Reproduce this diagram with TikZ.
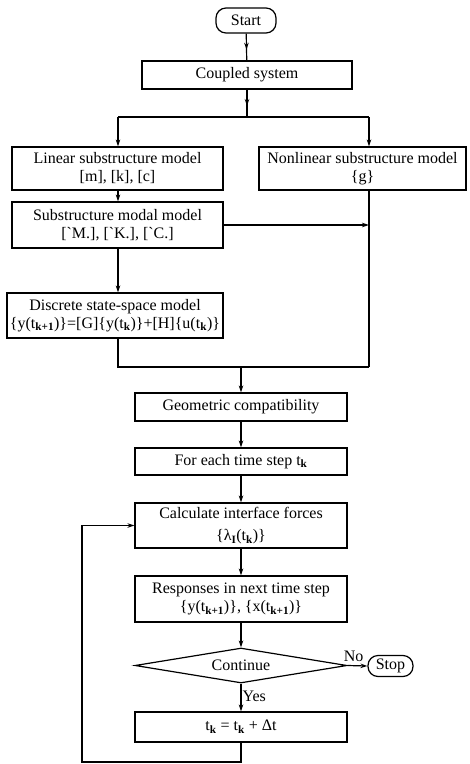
\documentclass[tikz,border=0pt]{standalone}
\usepackage{fontspec}
\setmainfont{Liberation Serif}
\usetikzlibrary{arrows.meta,shapes.geometric,decorations.markings}
\newcommand{\sbk}[1]{\textsubscript{\textbf{#1}}}
\begin{document}
\begin{tikzpicture}[x=1pt,y=-1pt,
  every node/.style={font=\fontsize{16}{18}\selectfont},
  box/.style={draw,line width=1.2pt,inner sep=0pt,align=center},
  term/.style={draw,line width=1.2pt,rounded corners=10pt,inner sep=0pt},
  conn/.style={line width=1.2pt},
  arr/.style={conn,-{Stealth[length=7pt,width=4.5pt]}},
  midarr/.style={conn,postaction={decorate},decoration={markings,mark=at position 0.6 with {\arrow{Stealth[length=7pt,width=4.5pt]}}}},
  lbl/.style={inner sep=1pt}
]
\useasboundingbox (0,0) rectangle (470,764);
\node[term,minimum width=60,minimum height=25] (start) at (246,20.5) {Start};
\node[box,minimum width=210,minimum height=28] (coupled) at (247,75) {Coupled system};
\node[box,minimum width=211,minimum height=43] (linear) at (117.5,168.5) {Linear substructure model\\{[m], [k], [c]}};
\node[box,minimum width=207,minimum height=43] (nonlin) at (362.5,168.5) {Nonlinear substructure model\\\{g\}};
\node[box,minimum width=211,minimum height=46] (modal) at (117.5,225) {Substructure modal model\\{[\textasciigrave M.], [\textasciigrave K.], [\textasciigrave C.]}};
\node[box,minimum width=216,minimum height=45] (discrete) at (115,315.5) {Discrete state-space model\\\{y(t\sbk{k+1})\}=[G]\{y(t\sbk{k})\}+[H]\{u(t\sbk{k})\}};
\node[box,minimum width=212,minimum height=28] (geom) at (241,407) {Geometric compatibility};
\node[box,minimum width=212,minimum height=27] (foreach) at (241,461.5) {For each time step t\sbk{k}};
\node[box,minimum width=212,minimum height=45] (calc) at (241,525.5) {Calculate interface forces\\[4pt]\{λ\sbk{I}(t\sbk{k})\}};
\node[box,minimum width=212,minimum height=46] (resp) at (241,599) {Responses in next time step\\\{y(t\sbk{k+1})\}, \{x(t\sbk{k+1})\}};
\node[draw,line width=1.2pt,diamond,aspect=6,inner sep=0pt,minimum width=212,minimum height=35] (cont) at (241,665.5) {Continue};
\node[term,minimum width=45,minimum height=21] (stop) at (390.5,666) {Stop};
\node[box,minimum width=212,minimum height=30] (tk) at (241,727) {t\sbk{k} = t\sbk{k} + Δt};

\coordinate (split) at (247,117);
\coordinate (sL) at (118,117);
\coordinate (sR) at (369,117);
\coordinate (mR) at (369,225);
\coordinate (jL) at (118,367);
\coordinate (jR) at (369,367);
\coordinate (jM) at (241,367);
\coordinate (bR) at (241,762);
\coordinate (bL) at (82,762);

\draw[midarr] (start) -- (coupled);
\draw[midarr] (coupled.south -| split) -- (split);
\draw[conn] (sL) -- (sR);
\draw[arr] (sL) -- (sL |- linear.north);
\draw[arr] (sR) -- (sR |- nonlin.north);
\draw[arr] (linear.south -| sL) -- (sL |- modal.north);
\draw[arr] (modal.east) -- (mR);
\draw[conn] (nonlin.south -| sR) -- (jR);
\draw[arr] (modal.south -| sL) -- (sL |- discrete.north);
\draw[conn] (discrete.south -| sL) -- (jL) -- (jR);
\draw[arr] (jM) -- (geom.north);
\draw[arr] (geom) -- (foreach);
\draw[arr] (foreach) -- (calc);
\draw[arr] (calc) -- (resp);
\draw[arr] (resp) -- (cont);
\draw[arr] (cont) -- node[lbl,anchor=west,pos=0.45] (yes) {Yes} (tk);
\draw[arr] (cont.east) -- node[lbl,anchor=south,pos=0.3,yshift=2pt] (no) {No} (stop.west);
\draw[arr] (tk.south) -- (bR) -- (bL) -- (bL |- calc.west) -- (calc.west);
\end{tikzpicture}
\end{document}
